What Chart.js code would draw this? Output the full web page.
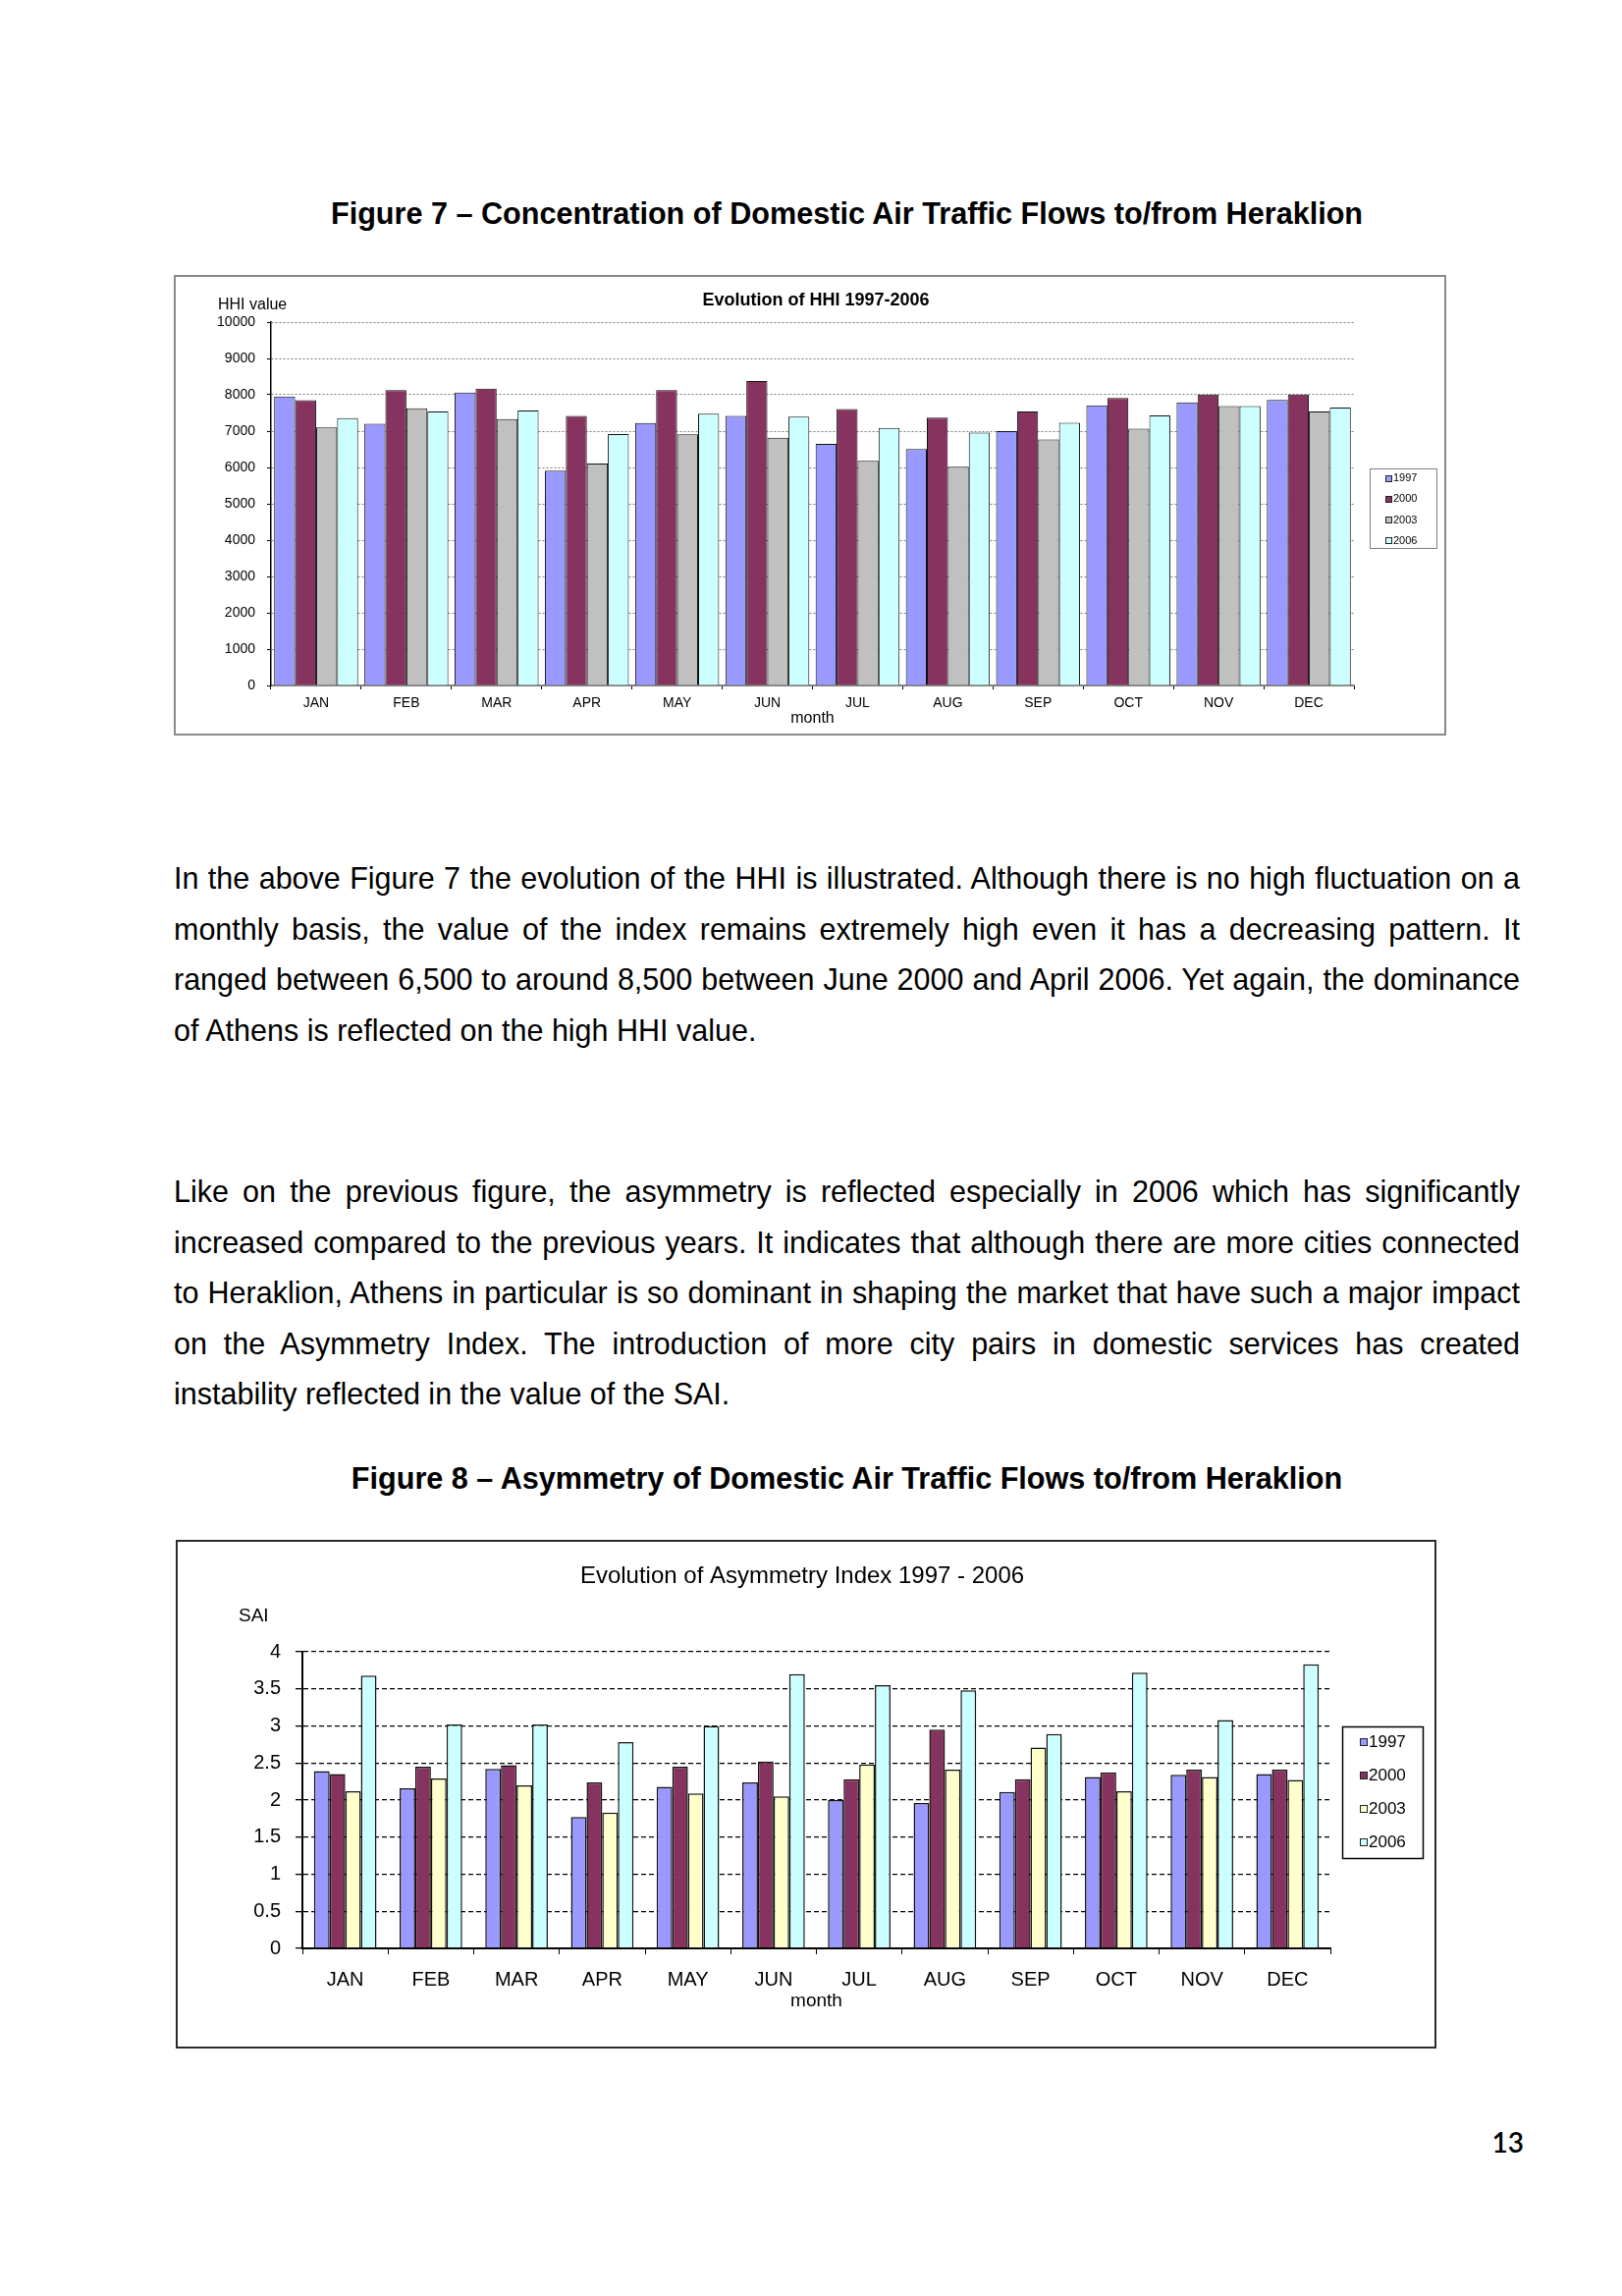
<!DOCTYPE html>
<html>
<head>
<meta charset="utf-8">
<script src="https://cdn.jsdelivr.net/npm/chart.js@4.4.1/dist/chart.umd.min.js"></script>
<style>
  html, body { margin: 0; padding: 0; background: #fff; }
  body { width: 1652px; height: 2338px; position: relative; overflow: hidden;
         font-family: "Liberation Sans", Arial, sans-serif; color: #000; }
  .cap { position: absolute; left: 177px; width: 1371px; text-align: center; font-weight: bold;
         font-size: 30.6px; line-height: 36px; white-space: nowrap; }
  .ln { position: absolute; left: 177px; width: 1371px; font-size: 30.5px; line-height: 51.6px;
        height: 51.6px; white-space: nowrap; text-align: justify; text-align-last: justify; }
  .ln.last { text-align-last: left; }
  .chartwrap { position: absolute; }
  .frame { position: absolute; box-sizing: border-box; pointer-events: none; }
  .pnum { position: absolute; right: 100px; top: 2167px; font-family: Lato, "Open Sans", sans-serif;
          font-size: 28px; line-height: 28px; font-weight: 600; }
</style>
</head>
<body>

<div class="cap" style="top:199px;">Figure 7 – Concentration of Domestic Air Traffic Flows to/from Heraklion</div>

<div class="chartwrap" style="left:177px;top:280px;width:1296px;height:469px;">
  <canvas id="c1" width="1296" height="469"></canvas>
</div>
<div class="frame" style="left:177px;top:280px;width:1296px;height:469px;border:2px solid #8a8a8a;"></div>

<div class="ln" style="top:869px;">In the above Figure 7 the evolution of the HHI is illustrated. Although there is no high fluctuation on a</div>
<div class="ln" style="top:920.6px;">monthly basis, the value of the index remains extremely high even it has a decreasing pattern. It</div>
<div class="ln" style="top:972.2px;">ranged between 6,500 to around 8,500 between June 2000 and April 2006. Yet again, the dominance</div>
<div class="ln last" style="top:1023.8px;">of Athens is reflected on the high HHI value.</div>

<div class="ln" style="top:1188px;">Like on the previous figure, the asymmetry is reflected especially in 2006 which has significantly</div>
<div class="ln" style="top:1239.6px;">increased compared to the previous years. It indicates that although there are more cities connected</div>
<div class="ln" style="top:1291.2px;">to Heraklion, Athens in particular is so dominant in shaping the market that have such a major impact</div>
<div class="ln" style="top:1342.8px;">on the Asymmetry Index. The introduction of more city pairs in domestic services has created</div>
<div class="ln last" style="top:1394.4px;">instability reflected in the value of the SAI.</div>

<div class="cap" style="top:1487px;">Figure 8 – Asymmetry of Domestic Air Traffic Flows to/from Heraklion</div>

<div class="chartwrap" style="left:179px;top:1568px;width:1284px;height:518px;">
  <canvas id="c2" width="1284" height="518"></canvas>
</div>
<div class="frame" style="left:179px;top:1568px;width:1284px;height:518px;border:2px solid #2a2a2a;"></div>

<div class="pnum">13</div>

<script>
// ---------- data ----------
const months = ['JAN','FEB','MAR','APR','MAY','JUN','JUL','AUG','SEP','OCT','NOV','DEC'];
const years = ['1997','2000','2003','2006'];

// Figure 7: HHI values
const hhi1997 = [7950, 7200, 8060, 5910, 7220, 7420, 6650, 6510, 7000, 7710, 7790, 7860];
const hhi2000 = [7850, 8130, 8170, 7420, 8130, 8380, 7610, 7370, 7540, 7910, 8010, 8010];
const hhi2003 = [7100, 7630, 7330, 6110, 6910, 6820, 6180, 6020, 6770, 7070, 7690, 7540];
const hhi2006 = [7360, 7540, 7570, 6920, 7480, 7400, 7090, 6960, 7230, 7430, 7690, 7650];
const hhiMin = 0, hhiMax = 10000, hhiStep = 1000;

// Figure 8: SAI values
const sai1997 = [2.39, 2.16, 2.42, 1.77, 2.18, 2.24, 2.00, 1.96, 2.11, 2.31, 2.34, 2.35];
const sai2000 = [2.35, 2.45, 2.47, 2.24, 2.45, 2.52, 2.28, 2.95, 2.28, 2.37, 2.41, 2.41];
const sai2003 = [2.12, 2.29, 2.20, 1.83, 2.09, 2.05, 2.48, 2.41, 2.71, 2.12, 2.31, 2.27];
const sai2006 = [3.68, 3.02, 3.02, 2.78, 3.00, 3.70, 3.55, 3.48, 2.89, 3.72, 3.08, 3.83];
const saiMin = 0, saiMax = 4, saiStep = 0.5;

const title1 = 'Evolution of HHI 1997-2006';
const yCap1 = 'HHI value';
const title2 = 'Evolution of Asymmetry Index 1997 - 2006';
const yCap2 = 'SAI';
const xTitle = 'month';

// ---------- styles ----------
const FONT = '"Liberation Sans", Arial, sans-serif';
const colors1 = ['#9999FF', '#87335F', '#C0C0C0', '#CCFFFF'];
const colors2 = ['#9999FF', '#87335F', '#FFFFCC', '#CCFFFF'];

Chart.defaults.font.family = FONT;
Chart.defaults.color = '#000';

const decor = {
  id: 'decor',
  afterDraw(chart, args, o) {
    const ctx = chart.ctx;
    ctx.save();
    ctx.fillStyle = '#000';
    ctx.textBaseline = 'middle';
    ctx.font = o.titleFont;
    ctx.textAlign = 'center';
    ctx.fillText(o.title, o.titleX, o.titleY);
    ctx.font = o.capFont;
    ctx.textAlign = 'left';
    ctx.fillText(o.cap, o.capX, o.capY);
    const L = o.legend;
    ctx.strokeStyle = L.border;
    ctx.lineWidth = L.lw;
    ctx.strokeRect(L.x + 0.5, L.y + 0.5, L.w, L.h);
    chart.data.datasets.forEach((ds, i) => {
      const y = L.y0 + i * L.gap;
      ctx.fillStyle = ds.backgroundColor;
      ctx.fillRect(L.mx, Math.round(y - L.ms / 2), L.ms, L.ms);
      ctx.strokeStyle = '#222';
      ctx.lineWidth = 1;
      ctx.strokeRect(L.mx + 0.5, Math.round(y - L.ms / 2) + 0.5, L.ms - 1, L.ms - 1);
      ctx.fillStyle = '#000';
      ctx.font = L.font;
      ctx.textAlign = 'left';
      ctx.fillText(ds.label, L.tx, y);
    });
    ctx.restore();
  }
};

function makeDatasets(series, colors, bw) {
  return series.map((data, i) => ({
    label: years[i],
    data: data,
    backgroundColor: colors[i],
    borderColor: '#111',
    borderWidth: bw,
    borderSkipped: 'bottom'
  }));
}

// ---------- Figure 7 ----------
new Chart(document.getElementById('c1'), {
  type: 'bar',
  data: { labels: months, datasets: makeDatasets([hhi1997, hhi2000, hhi2003, hhi2006], colors1, 1) },
  plugins: [decor],
  options: {
    responsive: false,
    animation: false,
    devicePixelRatio: 1,
    layout: { padding: { left: 39, right: 94, top: 48, bottom: 8 } },
    datasets: { bar: { categoryPercentage: 0.93, barPercentage: 1.0 } },
    plugins: {
      legend: { display: false },
      tooltip: { enabled: false },
      decor: {
        title: title1, titleX: 654, titleY: 26, titleFont: 'bold 18px ' + FONT,
        cap: yCap1, capX: 45, capY: 31, capFont: '16px ' + FONT,
        legend: { x: 1218, y: 197, w: 68, h: 81, border: '#808080', lw: 1,
                  y0: 207, gap: 21.3, mx: 1234, ms: 7, tx: 1242, font: '11px ' + FONT }
      }
    },
    scales: {
      x: {
        offset: true,
        grid: { display: true, offset: true, drawOnChartArea: false, drawTicks: true,
                tickLength: 4, color: '#000', tickColor: '#000' },
        border: { display: true, color: '#808080', width: 2 },
        ticks: { font: { size: 14 }, color: '#000', padding: 6, maxRotation: 0, autoSkip: false },
        title: { display: true, text: xTitle, font: { size: 16 }, color: '#000', padding: { top: 0, bottom: 0 } },
        afterFit(s) { s.height = 43; }
      },
      y: {
        min: hhiMin, max: hhiMax,
        ticks: { stepSize: hhiStep, font: { size: 14 }, color: '#000', padding: 12,
                 callback: v => String(v) },
        grid: { color: '#7a7a7a', tickColor: '#000', tickLength: 4, lineWidth: 1 },
        border: { display: true, color: '#000', width: 1.5, dash: [2, 2] },
        afterFit(s) { s.width = 60; }
      }
    }
  }
});

// ---------- Figure 8 ----------
new Chart(document.getElementById('c2'), {
  type: 'bar',
  data: { labels: months, datasets: makeDatasets([sai1997, sai2000, sai2003, sai2006], colors2, 1.5) },
  plugins: [decor],
  options: {
    responsive: false,
    animation: false,
    devicePixelRatio: 1,
    layout: { padding: { left: 59, right: 108, top: 114, bottom: 37 } },
    datasets: { bar: { categoryPercentage: 0.73, barPercentage: 1.0 } },
    plugins: {
      legend: { display: false },
      tooltip: { enabled: false },
      decor: {
        title: title2, titleX: 638, titleY: 37, titleFont: '24px ' + FONT,
        cap: yCap2, capX: 64, capY: 78, capFont: '19px ' + FONT,
        legend: { x: 1188, y: 190, w: 82, h: 134, border: '#000', lw: 1.5,
                  y0: 206, gap: 34, mx: 1206, ms: 8, tx: 1215, font: '17px ' + FONT }
      }
    },
    scales: {
      x: {
        offset: true,
        grid: { display: true, offset: true, drawOnChartArea: false, drawTicks: true,
                tickLength: 6, color: '#000', tickColor: '#000' },
        border: { display: true, color: '#000', width: 2 },
        ticks: { font: { size: 20 }, color: '#000', padding: 14, maxRotation: 0, autoSkip: false },
        title: { display: true, text: xTitle, font: { size: 19 }, color: '#000', padding: { top: 0, bottom: 0 } },
        afterFit(s) { s.height = 65; }
      },
      y: {
        min: saiMin, max: saiMax,
        ticks: { stepSize: saiStep, font: { size: 20 }, color: '#000', padding: 15,
                 callback: v => String(v) },
        grid: { color: '#000', tickColor: '#000', tickLength: 7, lineWidth: 1.3 },
        border: { display: true, color: '#000', width: 2, dash: [5, 3] },
        afterFit(s) { s.width = 70; }
      }
    }
  }
});
</script>
</body>
</html>
